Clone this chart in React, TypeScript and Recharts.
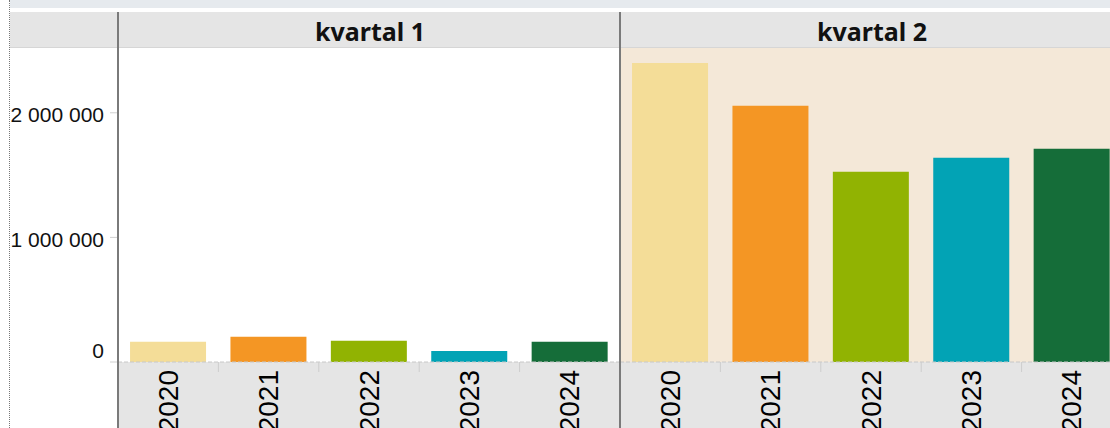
import { BarChart, Bar, XAxis, YAxis, CartesianGrid, Cell } from 'recharts';

const YEARS = ['2020', '2021', '2022', '2023', '2024'];
const QUARTERS = ['kvartal 1', 'kvartal 2'];
const Q1_VALUES = [163000, 203000, 171000, 88000, 163000];
const Q2_VALUES = [2400000, 2057000, 1527000, 1640000, 1712000];
const Y_TICKS = [0, 1000000, 2000000];
const YEAR_COLORS = ['#F4DD98', '#F49624', '#91B302', '#02A3B5', '#156D39'];
const Y_MAX = 2520000;

const PANEL_W = 502;
const CHART_TOP = 48;
const CHART_H = 380;
const AXIS_H = 66;
const LABEL_FONT = '"Liberation Sans", Arial, sans-serif';

const q1Data = YEARS.map((year, i) => ({ year, value: Q1_VALUES[i] }));
const q2Data = YEARS.map((year, i) => ({ year, value: Q2_VALUES[i] }));

const fmt = (v: number) => v.toLocaleString('en-US').replace(/,/g, ' ');

const YearTick = (props: any) => {
  const { x, y, payload } = props;
  const half = payload.offset || PANEL_W / YEARS.length / 2;
  const ty = y + 8;
  return (
    <g>
      {payload.index < YEARS.length - 1 && (
        <line x1={x + half} x2={x + half} y1={y} y2={y + 10} stroke="#cdcdcd" strokeWidth={1} />
      )}
      <text
        x={x}
        y={ty}
        transform={`rotate(-90, ${x}, ${ty})`}
        textAnchor="end"
        dominantBaseline="central"
        fontSize={28}
        fontFamily={LABEL_FONT}
        fill="#000"
      >
        {payload.value}
      </text>
    </g>
  );
};

const ValueTick = (props: any) => {
  const { x, y, payload } = props;
  const dy = payload.value === 0 ? -12 : 2;
  return (
    <text
      x={x}
      y={y + dy}
      textAnchor="end"
      dominantBaseline="central"
      fontSize={21}
      fontFamily={LABEL_FONT}
      fill="#111"
    >
      {fmt(payload.value)}
    </text>
  );
};

function Panel({ data, withAxis, bg }: { data: { year: string; value: number }[]; withAxis: boolean; bg?: string }) {
  return (
    <BarChart
      width={withAxis ? PANEL_W + 118 : PANEL_W}
      height={CHART_H}
      data={data}
      margin={{ top: 0, right: 0, bottom: 0, left: 0 }}
      barCategoryGap="12%"
    >
      {bg && <CartesianGrid fill={bg} horizontal={false} vertical={false} stroke="none" />}
      <XAxis
        dataKey="year"
        height={AXIS_H}
        tickSize={0}
        tickMargin={0}
        tickLine={false}
        axisLine={{ stroke: '#c8c8c8', strokeDasharray: '4 2' }}
        tick={<YearTick />}
        interval={0}
      />
      <YAxis
        hide={!withAxis}
        width={118}
        domain={[0, Y_MAX]}
        ticks={Y_TICKS}
        allowDataOverflow
        axisLine={false}
        tickSize={8}
        tickMargin={6}
        tickLine={{ stroke: '#d0d0d0' }}
        tick={<ValueTick />}
      />
      <Bar dataKey="value" isAnimationActive={false}>
        {data.map((d, i) => (
          <Cell key={d.year} fill={YEAR_COLORS[i]} />
        ))}
      </Bar>
    </BarChart>
  );
}

export default function App() {
  const abs = (s: React.CSSProperties): React.CSSProperties => ({ position: 'absolute', ...s });
  return (
    <div style={{ position: 'absolute', left: 0, top: 0, width: 1110, height: 428, overflow: 'hidden', background: '#fff' }}>
      {/* top strip */}
      <div style={abs({ left: 10, top: 0, width: 1100, height: 8, background: '#e6eaee' })} />
      {/* header band */}
      <div style={abs({ left: 10, top: 12, width: 1100, height: 36, background: '#e5e5e5', borderBottom: '1px solid #d6d6d6', boxSizing: 'border-box' })} />
      {QUARTERS.map((q, i) => (
        <div
          key={q}
          style={abs({
            left: 119 + i * PANEL_W,
            top: 13,
            width: PANEL_W,
            height: 36,
            lineHeight: '36px',
            textAlign: 'center',
            fontFamily: '"Noto Sans", sans-serif',
            fontWeight: 700,
            fontSize: 25,
            color: '#111',
          })}
        >
          {q}
        </div>
      ))}
      {/* bottom axis band */}
      <div style={abs({ left: 119, top: CHART_TOP + CHART_H - AXIS_H, width: 1000, height: AXIS_H, background: '#e5e5e5' })} />
      <div style={abs({ left: 0, top: CHART_TOP })}>
        <Panel data={q1Data} withAxis />
      </div>
      <div style={abs({ left: 620, top: CHART_TOP })}>
        <Panel data={q2Data} withAxis={false} bg="#f4e8d8" />
      </div>
      {/* panel dividers */}
      <div style={abs({ left: 117, top: 12, width: 2, height: 416, background: '#7a7a7a' })} />
      <div style={abs({ left: 619, top: 12, width: 2, height: 416, background: '#7a7a7a' })} />
      {/* dotted outer border */}
      <div style={abs({ left: 9, top: 0, width: 0, height: 428, borderLeft: '1px dotted #777' })} />
    </div>
  );
}
